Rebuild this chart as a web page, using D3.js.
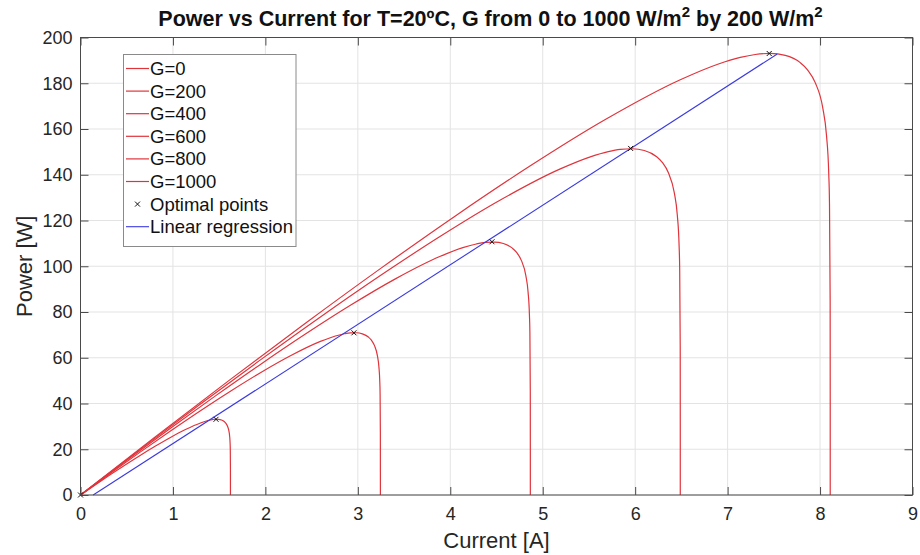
<!DOCTYPE html>
<html>
<head>
<meta charset="utf-8">
<script src="https://cdn.jsdelivr.net/npm/d3@7"></script>
<style>
  html, body { margin: 0; padding: 0; background: #fff; }
  svg { display: block; font-family: "Liberation Sans", Arial, Helvetica, sans-serif; }
</style>
</head>
<body>
<svg id="chart" width="920" height="555"></svg>
<script>
// ---------------- data ----------------
const xTicks = [0, 1, 2, 3, 4, 5, 6, 7, 8, 9];
const yTicks = [0, 20, 40, 60, 80, 100, 120, 140, 160, 180, 200];

const seriesLabels = ["G=0", "G=200", "G=400", "G=600", "G=800", "G=1000"];

const currentG0 = [0];
const powerG0 = [0];

const currentG200 = [0, 0.1622, 0.3244, 0.4866, 0.6488, 0.811, 0.9732, 1.1354, 1.2976, 1.3787, 1.42736, 1.4598, 1.49224, 1.52468, 1.55712, 1.57334, 1.58956, 1.60578, 1.61389, 1.61876, 1.62038, 1.62184, 1.62198, 1.622];
const powerG200 = [0, 4.499, 8.910, 13.215, 17.390, 21.397, 25.178, 28.622, 31.501, 32.558, 32.973, 33.111, 33.082, 32.791, 32.038, 31.330, 30.170, 27.918, 25.487, 22.151, 19.590, 11.025, 2.430, 0];

const currentG400 = [0, 0.3244, 0.6488, 0.9732, 1.2976, 1.622, 1.9464, 2.2708, 2.5952, 2.7574, 2.85472, 2.9196, 2.98448, 3.04936, 3.11424, 3.14668, 3.17912, 3.21156, 3.22778, 3.23751, 3.24076, 3.24368, 3.24397, 3.244];
const powerG400 = [0, 9.515, 18.854, 27.982, 36.849, 45.382, 53.460, 60.867, 67.140, 69.514, 70.500, 70.879, 70.923, 70.446, 69.043, 67.679, 65.410, 60.959, 56.121, 49.466, 44.350, 27.224, 10.034, 0];

const currentG600 = [0, 0.4866, 0.9732, 1.4598, 1.9464, 2.433, 2.9196, 3.4062, 3.8928, 4.1361, 4.28208, 4.3794, 4.47672, 4.57404, 4.67136, 4.72002, 4.76868, 4.81734, 4.84167, 4.85627, 4.86113, 4.86551, 4.86595, 4.866];
const powerG600 = [0, 14.726, 29.188, 43.334, 57.088, 70.340, 82.911, 94.474, 104.34, 108.13, 109.74, 110.40, 110.56, 109.93, 107.92, 105.92, 102.56, 95.93, 88.69, 78.73, 71.06, 45.37, 19.59, 0];

const currentG800 = [0, 0.6488, 1.2976, 1.9464, 2.5952, 3.244, 3.8928, 4.5416, 5.1904, 5.5148, 5.70944, 5.8392, 5.96896, 6.09872, 6.22848, 6.29336, 6.35824, 6.42312, 6.45556, 6.47502, 6.48151, 6.48735, 6.48794, 6.488];
const powerG800 = [0, 20.064, 39.777, 59.067, 77.835, 95.935, 113.12, 128.97, 142.56, 147.82, 150.10, 151.07, 151.36, 150.61, 148.01, 145.39, 140.96, 132.15, 122.53, 109.25, 99.03, 64.79, 30.41, 0];

const currentG1000 = [0, 0.811, 1.622, 2.433, 3.244, 4.055, 4.866, 5.677, 6.488, 6.8935, 7.1368, 7.299, 7.4612, 7.6234, 7.7856, 7.8667, 7.9478, 8.0289, 8.06945, 8.09378, 8.10189, 8.10919, 8.10992, 8.11];
const powerG1000 = [0, 25.50, 50.55, 75.08, 98.96, 122.00, 143.90, 164.13, 181.52, 188.31, 191.29, 192.58, 193.03, 192.18, 189.01, 185.77, 180.27, 169.31, 157.31, 140.72, 127.95, 85.15, 42.20, 0];

const optimalCurrent = [0, 1.466, 2.958, 4.451, 5.951, 7.450];
const optimalPower = [0, 33.1, 70.9, 110.7, 151.5, 193.0];

const regressionCurrent = [0.137, 7.537];
const regressionPower = [0, 192.8];

// ---------------- layout ----------------
const plot = { left: 80.5, right: 912.5, top: 37.5, bottom: 495 };
const curveColor = "#e0343c";
const regColor = "#3a3ae0";
const axisColor = "#4a4a4a";
const textColor = "#262626";
const gridColor = "#e3e3e3";

const svg = d3.select("#chart");
const x = d3.scaleLinear().domain([0, 9]).range([plot.left, plot.right]);
const y = d3.scaleLinear().domain([0, 200]).range([plot.bottom, plot.top]);

// grid
const grid = svg.append("g");
grid.selectAll("line.gx").data(xTicks).join("line")
  .attr("x1", d => x(d)).attr("x2", d => x(d))
  .attr("y1", plot.top).attr("y2", plot.bottom)
  .attr("stroke", gridColor).attr("stroke-width", 1);
grid.selectAll("line.gy").data(yTicks).join("line")
  .attr("y1", d => y(d)).attr("y2", d => y(d))
  .attr("x1", plot.left).attr("x2", plot.right)
  .attr("stroke", gridColor).attr("stroke-width", 1);

// curves
const seriesCurrent = [currentG0, currentG200, currentG400, currentG600, currentG800, currentG1000];
const seriesPower = [powerG0, powerG200, powerG400, powerG600, powerG800, powerG1000];
const line = d3.line().x(d => x(d[0])).y(d => y(d[1])).curve(d3.curveMonotoneX);

const curves = svg.append("g");
seriesCurrent.forEach((cur, i) => {
  const pts = cur.map((c, k) => [c, seriesPower[i][k]]);
  if (pts.length < 2) return;
  curves.append("path").attr("d", line(pts))
    .attr("fill", "none").attr("stroke", curveColor).attr("stroke-width", 1.2);
});

// regression line
const regPts = regressionCurrent.map((c, k) => [c, regressionPower[k]]);
svg.append("path").attr("d", d3.line().x(d => x(d[0])).y(d => y(d[1]))(regPts))
  .attr("fill", "none").attr("stroke", regColor).attr("stroke-width", 1.1);

// optimal points
const times = d3.symbol().type(d3.symbolTimes).size(18);
svg.append("g").selectAll("path").data(optimalCurrent.map((c, k) => [c, optimalPower[k]])).join("path")
  .attr("d", times)
  .attr("transform", d => `translate(${x(d[0])},${y(d[1])})`)
  .attr("fill", "none").attr("stroke", "#111").attr("stroke-width", 1);

// axes (ticks inward on all four sides)
const fs = 18;
const axB = svg.append("g").attr("transform", `translate(0,${plot.bottom})`)
  .call(d3.axisBottom(x).tickValues(xTicks).tickSizeInner(-8).tickSizeOuter(0).tickPadding(10).tickFormat(d3.format("d")));
const axT = svg.append("g").attr("transform", `translate(0,${plot.top})`)
  .call(d3.axisTop(x).tickValues(xTicks).tickSizeInner(-8).tickSizeOuter(0).tickFormat(""));
const axL = svg.append("g").attr("transform", `translate(${plot.left},0)`)
  .call(d3.axisLeft(y).tickValues(yTicks).tickSizeInner(-8).tickSizeOuter(0).tickPadding(8).tickFormat(d3.format("d")));
const axR = svg.append("g").attr("transform", `translate(${plot.right},0)`)
  .call(d3.axisRight(y).tickValues(yTicks).tickSizeInner(-8).tickSizeOuter(0).tickFormat(""));
[axB, axT, axL, axR].forEach(g => {
  g.select(".domain").remove();
  g.selectAll(".tick line").attr("stroke", axisColor);
  g.selectAll(".tick text").attr("fill", textColor).attr("font-size", fs)
    .attr("font-family", "'Liberation Sans', Arial, sans-serif");
});
axB.selectAll(".tick text").attr("dy", "0.85em");

// box
svg.append("rect").attr("x", plot.left).attr("y", plot.top)
  .attr("width", plot.right - plot.left).attr("height", plot.bottom - plot.top)
  .attr("fill", "none").attr("stroke", axisColor).attr("stroke-width", 1);

// title
const title = svg.append("text").attr("x", (plot.left + plot.right) / 2 - 6).attr("y", 26)
  .attr("text-anchor", "middle").attr("font-weight", "bold").attr("font-size", 21.5).attr("fill", "#111");
title.append("tspan").text("Power vs Current for T=20ºC, G from 0 to 1000 W/m");
title.append("tspan").text("2").attr("font-size", 15).attr("dy", -9);
title.append("tspan").text(" by 200 W/m").attr("dy", 9);
title.append("tspan").text("2").attr("font-size", 15).attr("dy", -9);

// axis labels
svg.append("text").attr("x", (plot.left + plot.right) / 2).attr("y", 548)
  .attr("text-anchor", "middle").attr("font-size", 22).attr("fill", textColor).text("Current [A]");
svg.append("text").attr("transform", `translate(32,${(plot.top + plot.bottom) / 2}) rotate(-90)`)
  .attr("text-anchor", "middle").attr("font-size", 22).attr("fill", textColor).text("Power [W]");

// legend
const lg = svg.append("g");
lg.append("rect").attr("x", 123.5).attr("y", 54.5).attr("width", 172.5).attr("height", 192)
  .attr("fill", "#fff").attr("stroke", "#8a8a8a").attr("stroke-width", 1);
const legendLabels = seriesLabels.concat(["Optimal points", "Linear regression"]);
const rowY = i => 68.5 + i * 22.6;
legendLabels.forEach((lab, i) => {
  const yy = rowY(i);
  if (i < 6) {
    lg.append("line").attr("x1", 126).attr("x2", 149).attr("y1", yy).attr("y2", yy)
      .attr("stroke", curveColor).attr("stroke-width", 1.2);
  } else if (i === 6) {
    lg.append("path").attr("d", times).attr("transform", `translate(137.5,${yy})`)
      .attr("fill", "none").attr("stroke", "#111").attr("stroke-width", 1);
  } else {
    lg.append("line").attr("x1", 126).attr("x2", 149).attr("y1", yy).attr("y2", yy)
      .attr("stroke", regColor).attr("stroke-width", 1.1);
  }
  lg.append("text").attr("x", 150).attr("y", yy).attr("dy", "0.35em")
    .attr("font-size", 18.5).attr("fill", "#111").text(lab);
});
</script>
</body>
</html>
